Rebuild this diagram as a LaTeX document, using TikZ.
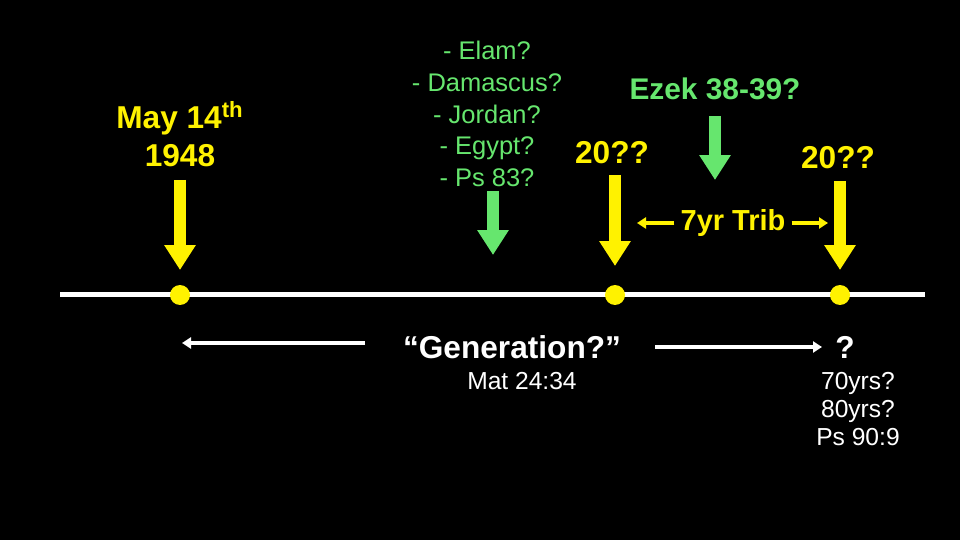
\documentclass[tikz,border=0pt]{standalone}
\usepackage{fontspec}
\setmainfont{Liberation Sans}
\usetikzlibrary{arrows.meta}
\definecolor{lblgreen}{RGB}{102,230,110}
\tikzset{
	bigarrow/.style={line width=0.24cm, -{Triangle[width=0.6cm,length=0.5cm]}},
	thinarrow/.style={line width=0.07cm, -{Triangle[width=0.22cm,length=0.18cm]}},
	dot/.style={circle, fill=yellow, inner sep=0pt, minimum size=0.4cm},
	boldtxt/.style={font=\fontsize{18}{21.5}\selectfont\bfseries, align=center},
	plaintxt/.style={font=\fontsize{14}{16}\selectfont, align=center}
}

\begin{document}
\begin{tikzpicture}[x=0.02cm, y=-0.02cm]
		%%%%% START %%%%%
		
		\fill[black] (0, 0) rectangle (960, 540);
		
		% timeline
		\coordinate (tl) at (60, 295);
		\coordinate (tr) at (925, 295);
		\draw[white, line width=0.1cm] (tl) -- (tr);
		\node[dot] (d1) at (180, 295) {};
		\node[dot] (d2) at (615, 295) {};
		\node[dot] (d3) at (840, 295) {};
		
		% yellow labels
		\node[boldtxt, yellow] (may) at (180, 134) {May 14\textsuperscript{th}\\1948};
		\node[boldtxt, yellow] (y1) at (612, 153) {20??};
		\node[boldtxt, yellow] (y2) at (838, 158) {20??};
		\node[boldtxt, yellow, font=\fontsize{16.5}{20}\selectfont\bfseries] (trib) at (733, 223) {7yr Trib};
		
		\coordinate (a1) at (180, 180);
		\coordinate (b1) at (180, 270);
		\coordinate (a2) at (615, 175);
		\coordinate (b2) at (615, 266);
		\coordinate (a3) at (840, 181);
		\coordinate (b3) at (840, 270);
		\draw[bigarrow, yellow] (a1) -- (b1);
		\draw[bigarrow, yellow] (a2) -- (b2);
		\draw[bigarrow, yellow] (a3) -- (b3);
		
		\coordinate (t1) at (637, 223);
		\coordinate (t2) at (828, 223);
		\draw[thinarrow, yellow] (trib.west) -- (t1);
		\draw[thinarrow, yellow] (trib.east) -- (t2);
		
		% green labels
		\node[boldtxt, lblgreen, font=\fontsize{17}{20}\selectfont\bfseries] (ezek) at (715, 89) {Ezek 38-39?};
		\node[plaintxt, lblgreen, font=\fontsize{14.5}{18.1}\selectfont] (list) at (487, 114) {- Elam?\\- Damascus?\\- Jordan?\\- Egypt?\\- Ps 83?};
		
		\coordinate (g1) at (715, 116);
		\coordinate (h1) at (715, 180);
		\coordinate (g2) at (493, 191);
		\coordinate (h2) at (493, 255);
		\draw[bigarrow, lblgreen] (g1) -- (h1);
		\draw[bigarrow, lblgreen] (g2) -- (h2);
		
		% generation
		\node[boldtxt, white] (gen) at (512, 347) {``Generation?''};
		\node[plaintxt, white] (mat) at (522, 381) {Mat 24:34};
		\node[boldtxt, white] (q) at (845, 347) {?};
		\node[plaintxt, white] (yrs) at (858, 409) {70yrs?\\80yrs?\\Ps 90:9};
		
		\coordinate (w1) at (365, 343);
		\coordinate (w2) at (182, 343);
		\coordinate (w3) at (655, 347);
		\coordinate (w4) at (822, 347);
		\draw[thinarrow, white] (w1) -- (w2);
		\draw[thinarrow, white] (w3) -- (w4);
		
		%%%%% END %%%%%
	\end{tikzpicture}
\end{document}
